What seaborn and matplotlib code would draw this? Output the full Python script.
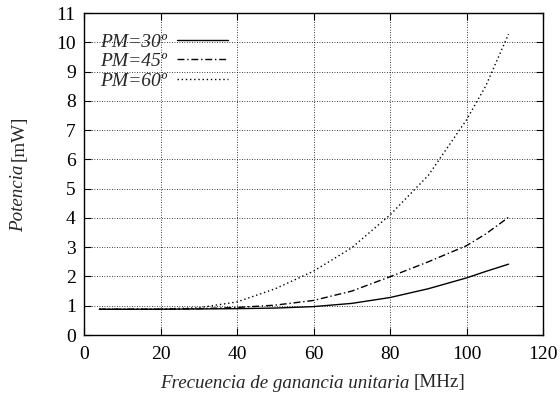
import matplotlib
matplotlib.use("Agg")
import matplotlib.pyplot as plt
import seaborn as sns
import pandas as pd

freq = [4, 10, 20, 30, 40, 50, 60, 70, 80, 90, 100, 105, 111]
pm30 = [0.88, 0.88, 0.88, 0.89, 0.90, 0.92, 0.97, 1.08, 1.28, 1.58, 1.95, 2.17, 2.42]
pm45 = [0.88, 0.88, 0.88, 0.90, 0.94, 1.02, 1.18, 1.50, 1.99, 2.50, 3.05, 3.45, 4.02]
pm60 = [0.88, 0.88, 0.89, 0.93, 1.13, 1.58, 2.18, 2.98, 4.10, 5.45, 7.35, 8.50, 10.28]
labels = ["PM=30º", "PM=45º", "PM=60º"]
xticks = [0, 20, 40, 60, 80, 100, 120]
yticks = list(range(0, 12))

sns.set_theme(style="ticks")
plt.rcParams["font.family"] = ["Liberation Serif", "DejaVu Serif"]

W, H = 560, 398
FS = 14
LFS = 13.7
fig = plt.figure(figsize=(W / 100, H / 100), dpi=100)
ax = fig.add_axes([84 / W, 1 - 335 / H, (543 - 84) / W, (335 - 13) / H])

styles = ["-", (0, (5, 2, 1, 2)), (0, (1, 2))]
for vals, lab, ls in zip([pm30, pm45, pm60], labels, styles):
    df = pd.DataFrame({"f": freq, "p": vals})
    sns.lineplot(data=df, x="f", y="p", ax=ax, color="black", lw=1.0,
                 linestyle=ls, label=lab)

ax.set_xlim(0, 120)
ax.set_ylim(0, 11)
ax.set_xticks(xticks)
ax.set_yticks(yticks)
ax.tick_params(direction="in", top=True, right=True, labelsize=FS,
               length=5, width=0.8, colors="black")
ax.tick_params(axis="x", pad=8)
ax.tick_params(axis="y", pad=6)
ax.grid(True, linestyle=(0, (1, 2)), color="black", lw=0.6)
for s in ax.spines.values():
    s.set_color("black")
    s.set_linewidth(1.0)
ax.set_xlabel("")
ax.set_ylabel("")

leg = ax.legend(loc="upper right", frameon=False, markerfirst=False,
                prop={"family": "Liberation Serif", "style": "italic", "size": FS},
                handlelength=2.63, handletextpad=0.5, borderpad=0,
                borderaxespad=0, labelspacing=0.1,
                bbox_to_anchor=(228 / W, 1 - 33 / H),
                bbox_transform=fig.transFigure)

# axis labels with mixed italic / roman parts
fig.canvas.draw()
r = fig.canvas.get_renderer()
tx = fig.text(160 / W, 1 - 383 / H, "Frecuencia de ganancia unitaria",
              style="italic", fontsize=LFS, ha="left", va="center")
bb = tx.get_window_extent(r)
fig.text((bb.x1 + 4) / W, 1 - 383 / H, "[MHz]", fontsize=LFS, ha="left", va="center")

ty = fig.text(19 / W, 1 - 232 / H, "Potencia", style="italic", fontsize=LFS,
              rotation=90, ha="center", va="bottom")
bb = ty.get_window_extent(r)
fig.text(19 / W, (bb.y1 + 4) / H, "[mW]", fontsize=LFS, rotation=90,
         ha="center", va="bottom")

fig.savefig("out.png", dpi=100)
